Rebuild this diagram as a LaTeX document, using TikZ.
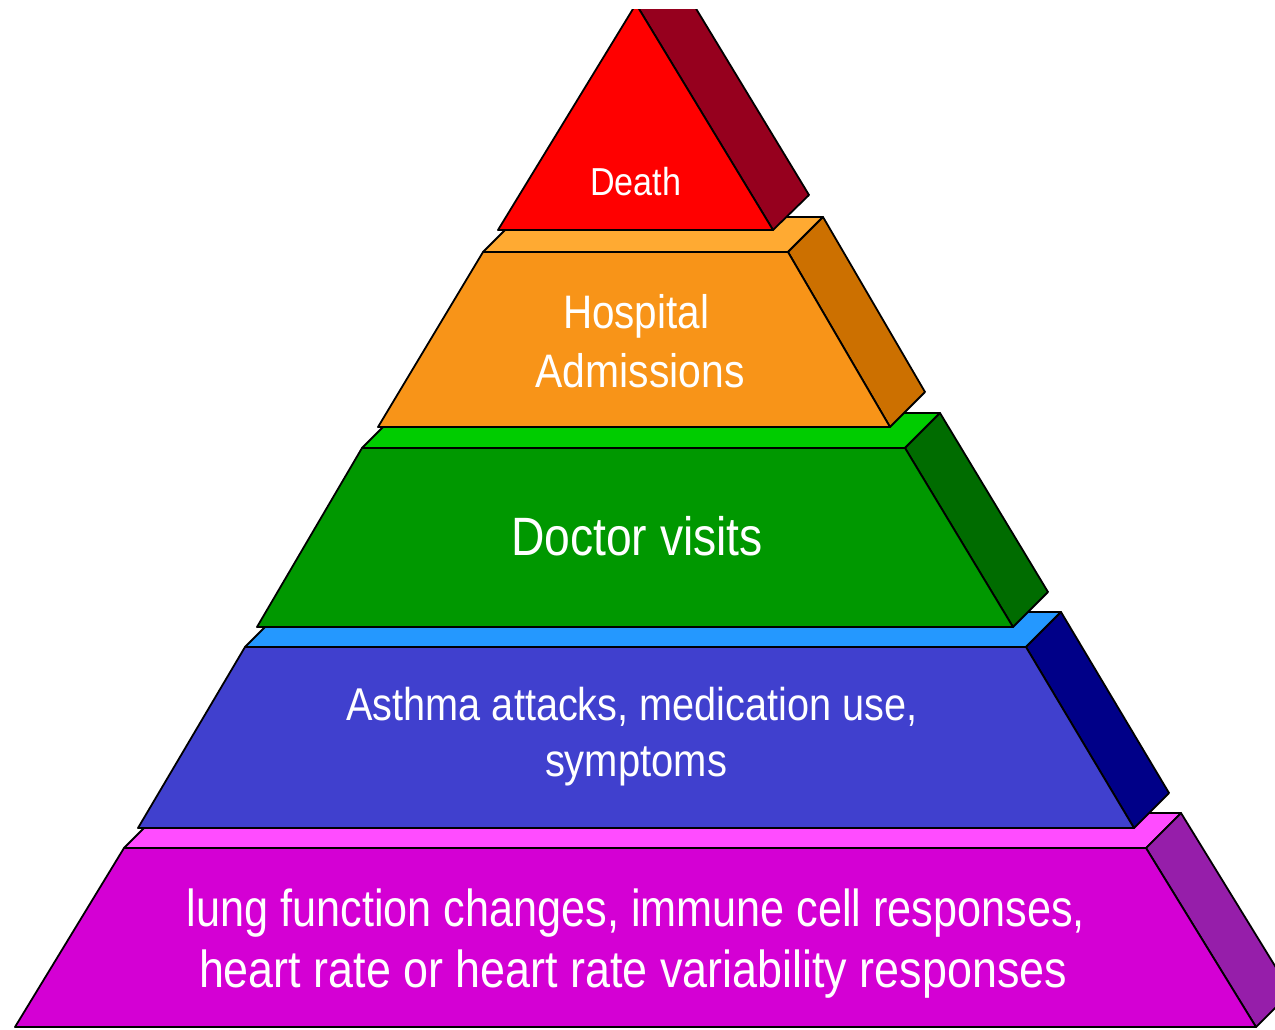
\documentclass[tikz,border=0pt]{standalone}
\usepackage{fontspec}
\setmainfont{Liberation Sans}
\usepackage{graphicx}
\definecolor{redF}{RGB}{255,0,0}
\definecolor{redS}{RGB}{150,0,30}
\definecolor{orF}{RGB}{248,148,24}
\definecolor{orT}{RGB}{255,170,50}
\definecolor{orS}{RGB}{204,112,0}
\definecolor{grF}{RGB}{0,152,0}
\definecolor{grT}{RGB}{0,204,0}
\definecolor{grS}{RGB}{0,108,0}
\definecolor{blF}{RGB}{64,64,206}
\definecolor{blT}{RGB}{36,152,255}
\definecolor{blS}{RGB}{0,0,136}
\definecolor{mgF}{RGB}{212,0,212}
\definecolor{mgT}{RGB}{255,76,255}
\definecolor{mgS}{RGB}{150,30,170}
\newcommand\fitlabel[3]{\resizebox{#2pt}{\height}{\fontsize{#1}{#1}\selectfont #3}}
\begin{document}
\begin{tikzpicture}[x=1pt,y=-1pt,
  face/.style={draw=black,line width=1.8pt,line join=round},
  lbl/.style={text=white,inner sep=0pt,anchor=base}]
\useasboundingbox (0,0) rectangle (1275,1029);
\begin{scope}
\clip (0,9) rectangle (1275,1029);
% magenta tier
\path[face,fill=mgT] (124,848) -- (159,813) -- (1181,813) -- (1146,848) -- cycle;
\path[face,fill=mgS] (1146,848) -- (1181,813) -- (1291,992) -- (1256,1027) -- cycle;
\path[face,fill=mgF] (124,848) -- (1146,848) -- (1256,1027) -- (15,1027) -- cycle;
% blue tier
\path[face,fill=blT] (245,647) -- (280,612) -- (1061,612) -- (1026,647) -- cycle;
\path[face,fill=blS] (1026,647) -- (1061,612) -- (1169,793) -- (1134,828) -- cycle;
\path[face,fill=blF] (245,647) -- (1026,647) -- (1134,828) -- (138,828) -- cycle;
% green tier
\path[face,fill=grT] (362,448) -- (397,413) -- (940,413) -- (905,448) -- cycle;
\path[face,fill=grS] (905,448) -- (940,413) -- (1048,592) -- (1013,627) -- cycle;
\path[face,fill=grF] (362,448) -- (905,448) -- (1013,627) -- (257,627) -- cycle;
% orange tier
\path[face,fill=orT] (483,252) -- (518,217) -- (823,217) -- (788,252) -- cycle;
\path[face,fill=orS] (788,252) -- (823,217) -- (925,392) -- (890,427) -- cycle;
\path[face,fill=orF] (483,252) -- (788,252) -- (890,427) -- (378,427) -- cycle;
% red tier
\path[face,fill=redS] (773,230) -- (809,195) -- (672,-31) -- (636,4) -- cycle;
\path[face,fill=redF] (498,230) -- (773,230) -- (636,4) -- cycle;
\end{scope}
\node[lbl] (death) at (635.5,195) {\fitlabel{39}{91}{Death}};
\node[lbl] (hosp1) at (636,328) {\fitlabel{47}{146}{Hospital}};
\node[lbl] (hosp2) at (640,387) {\fitlabel{47}{209}{Admissions}};
\node[lbl] (doctor) at (637,555) {\fitlabel{54}{252}{Doctor visits}};
\node[lbl] (asthma1) at (632,720) {\fitlabel{46}{571}{Asthma attacks, medication use,}};
\node[lbl] (asthma2) at (636,776) {\fitlabel{46}{182}{symptoms}};
\node[lbl] (lung1) at (636,926) {\fitlabel{52}{898}{lung function changes, immune cell responses,}};
\node[lbl] (lung2) at (633,987) {\fitlabel{52}{868}{heart rate or heart rate variability responses}};
\end{tikzpicture}
\end{document}
